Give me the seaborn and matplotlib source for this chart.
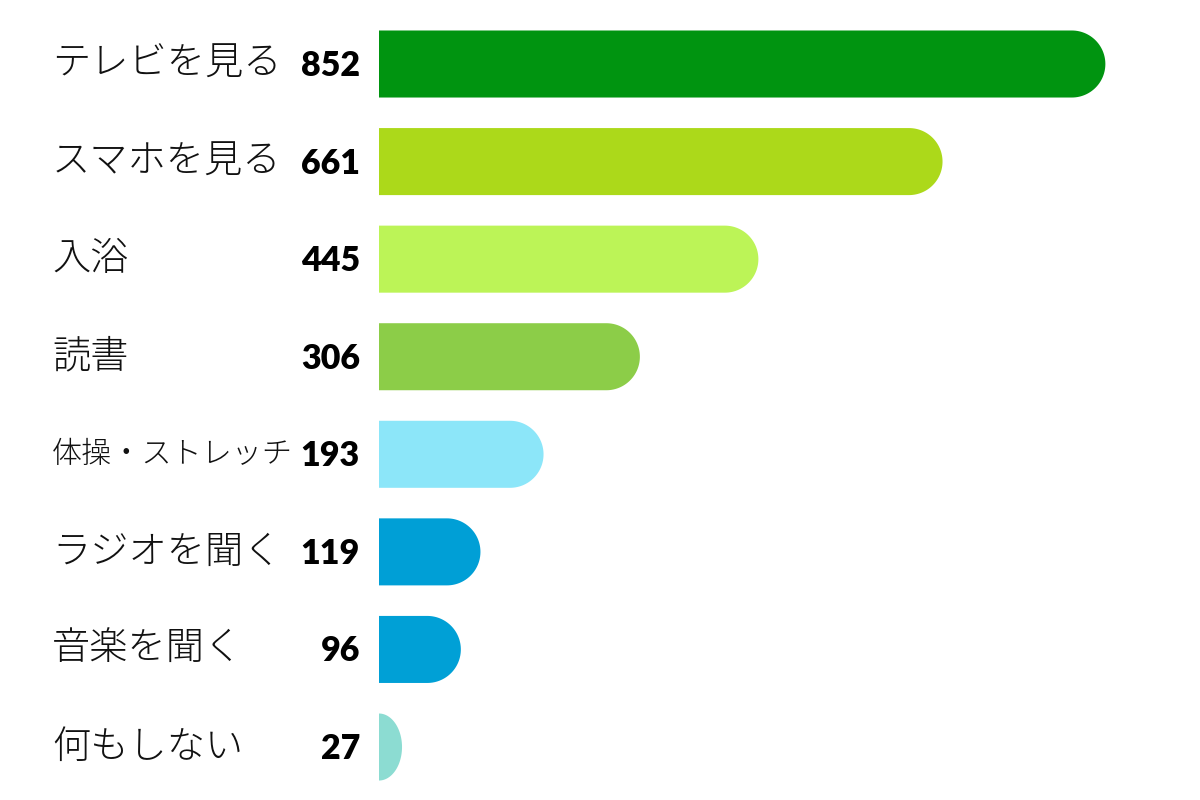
import numpy as np
import seaborn as sns
import matplotlib.pyplot as plt
from matplotlib.patches import Polygon
from matplotlib.transforms import blended_transform_factory

activities = ['テレビを見る', 'スマホを見る', '入浴', '読書', '体操・ストレッチ',
              'ラジオを聞く', '音楽を聞く', '何もしない']
counts = [852, 661, 445, 306, 193, 119, 96, 27]
colors = ['#009410', '#acd91a', '#bcf457', '#8ccd48', '#8ce6f9',
          '#009fd6', '#00a0d6', '#8cdcd2']
label_sizes = [27.5, 27.5, 27.5, 27.5, 21.7, 27.5, 27.5, 27.5]

sns.set_theme(style='white')
plt.rcParams['font.family'] = ['Noto Sans CJK JP', 'DejaVu Sans']

fig = plt.figure(figsize=(12, 8), dpi=100)
ax = fig.add_axes([379 / 1200, 0, 1 - 379 / 1200, 1])

sns.barplot(x=counts, y=activities, hue=activities, palette=colors,
            legend=False, orient='h', width=0.687, ax=ax, saturation=1)

ax.set_xlim(0, 963)
ax.set_ylim(7.543, -0.656)
ax.axis('off')

# rounded right end for each bar (radius = half bar height in pixels)
px_per_unit = (1200 - 379) / 963
for p in list(ax.patches):
    x0, y0 = p.get_x(), p.get_y()
    w, h = p.get_width(), p.get_height()
    fc = p.get_facecolor()
    p.remove()
    half_px = abs(h) * 97.57 / 2
    rx = min(half_px / px_per_unit, w)
    yc = y0 + h / 2
    t = np.linspace(-np.pi / 2, np.pi / 2, 60)
    xs = x0 + w - rx + rx * np.cos(t)
    ys = yc + (h / 2) * np.sin(t)
    pts = [(x0, y0)] + list(zip(xs, ys)) + [(x0, y0 + h)]
    ax.add_patch(Polygon(pts, closed=True, facecolor=fc, edgecolor='none'))

trans = blended_transform_factory(fig.transFigure, ax.transData)
for i, (lab, v, fs) in enumerate(zip(activities, counts, label_sizes)):
    ax.text(52 / 1200, i, lab, transform=trans, ha='left', va='center',
            fontsize=fs, fontweight='light', color='#111111')
    ax.text(360 / 1200, i + 0.02, str(v), transform=trans, ha='right', va='center',
            fontsize=24.5, fontweight='heavy', family=['Lato', 'DejaVu Sans'],
            color='#000000')

fig.savefig('out.png', dpi=100)
